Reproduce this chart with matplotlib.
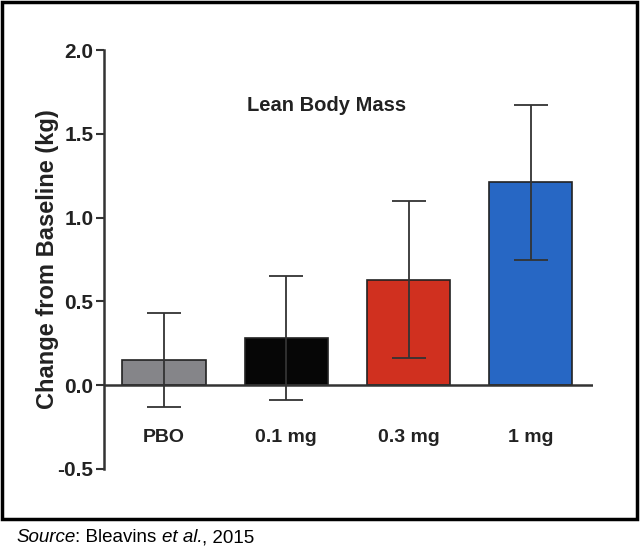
import numpy as np
import matplotlib
matplotlib.use('Agg')
import matplotlib.pyplot as plt
from matplotlib.patches import Rectangle

plt.rcParams['font.family'] = ['Liberation Sans', 'DejaVu Sans']

# dados
grupos = ['PBO', '0.1 mg', '0.3 mg', '1 mg']
media = [0.15, 0.28, 0.63, 1.21]
erro = [0.28, 0.37, 0.47, 0.46]
cores = ['#858589', '#060606', '#d0301f', '#2767c4']
yticks = [-0.5, 0.0, 0.5, 1.0, 1.5, 2.0]

fig = plt.figure(figsize=(6.4, 5.56), dpi=100)
ax = fig.add_axes([0.1625, 0.1565, 0.7645, 0.7535])

x = np.arange(len(grupos))
ax.bar(x, media, width=0.68, color=cores, edgecolor='#222222', linewidth=1.2, zorder=2)
ax.errorbar(x, media, yerr=erro, fmt='none', ecolor='#333333', elinewidth=1.3,
            capsize=12, capthick=1.3, zorder=3)

ax.axhline(0, color='#333333', linewidth=1.8, zorder=4)
ax.set_xlim(-0.49, 3.51)
ax.set_ylim(-0.5, 2.0)
ax.set_yticks(yticks)
ax.set_yticklabels([f'{v:.1f}' for v in yticks], fontsize=15, fontweight='bold', color='#222222')
ax.tick_params(axis='y', direction='out', length=6, width=1.5, color='#333333', pad=1.5)
ax.set_xticks([])
for s in ['top', 'right', 'bottom']:
    ax.spines[s].set_visible(False)
ax.spines['left'].set_linewidth(1.8)
ax.spines['left'].set_color('#333333')

for xi, g in zip(x, grupos):
    ax.text(xi, -0.31, g, ha='center', va='center', fontsize=14, fontweight='bold', color='#222222')

ax.text(1.33, 1.67, 'Lean Body Mass', ha='center', va='center', fontsize=14.5,
        fontweight='bold', color='#222222')
ax.set_ylabel('Change from Baseline (kg)', fontsize=17, fontweight='bold', color='#222222')
ax.yaxis.set_label_coords(-0.092, 0.5)

# moldura
fig.patches.append(Rectangle((2 / 640, 1 - 519 / 556), 635 / 640, 517 / 556,
                             transform=fig.transFigure, fill=False, edgecolor='black', linewidth=2.5))

# fonte em pedacos (italico / normal)
pedacos = [('Source', 'italic'), (': Bleavins ', 'normal'), ('et al.', 'italic'), (', 2015', 'normal')]
renderer = fig.canvas.get_renderer()
x0 = 16 / 640
for txt, estilo in pedacos:
    t = fig.text(x0, 1 - 538 / 556, txt, fontsize=13.5, style=estilo, va='center', ha='left',
                 color='black')
    w = t.get_window_extent(renderer=renderer).width
    x0 += w / 640

fig.savefig('out.png', dpi=100)
